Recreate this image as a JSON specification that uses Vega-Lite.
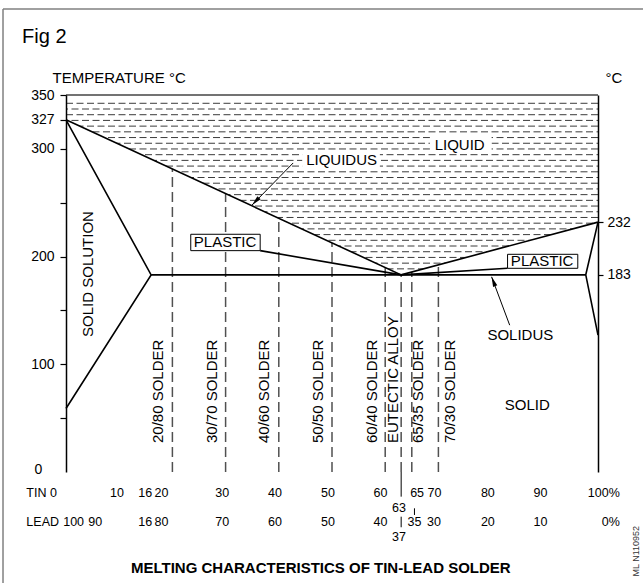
{
  "$schema": "https://vega.github.io/schema/vega-lite/v6.json",
  "width": 532,
  "height": 377,
  "autosize": {"type": "none"},
  "padding": {"left": 66, "top": 95, "right": 45, "bottom": 111},
  "background": "white",
  "config": {
    "view": {"stroke": null},
    "font": "Liberation Sans",
    "text": {"font": "Liberation Sans", "color": "black"},
    "axis": {"labelFont": "Liberation Sans", "titleFont": "Liberation Sans"}
  },
  "resolve": {"axis": {"y": "independent"}},
  "datasets": {
    "hatchA": [{"x": 0, "x2": 100, "y": 342.3}, {"x": 0, "x2": 100, "y": 331.7}, {"x": 0, "x2": 100, "y": 321.1}, {"x": 0, "x2": 100, "y": 310.5}, {"x": 0, "x2": 100, "y": 299.9}, {"x": 0, "x2": 100, "y": 289.3}, {"x": 0, "x2": 100, "y": 278.7}, {"x": 0, "x2": 100, "y": 268.1}, {"x": 0, "x2": 100, "y": 257.5}, {"x": 0, "x2": 100, "y": 246.9}, {"x": 0, "x2": 100, "y": 236.3}, {"x": 0, "x2": 100, "y": 225.7}, {"x": 0, "x2": 100, "y": 215.1}, {"x": 0, "x2": 100, "y": 204.5}, {"x": 0, "x2": 100, "y": 193.9}],
    "hatchB": [{"x": 0, "x2": 100, "y": 337.0}, {"x": 0, "x2": 100, "y": 326.4}, {"x": 0, "x2": 100, "y": 315.8}, {"x": 0, "x2": 100, "y": 305.2}, {"x": 0, "x2": 100, "y": 294.6}, {"x": 0, "x2": 100, "y": 284.0}, {"x": 0, "x2": 100, "y": 273.4}, {"x": 0, "x2": 100, "y": 262.8}, {"x": 0, "x2": 100, "y": 252.2}, {"x": 0, "x2": 100, "y": 241.6}, {"x": 0, "x2": 100, "y": 231.0}, {"x": 0, "x2": 100, "y": 220.4}, {"x": 0, "x2": 100, "y": 209.8}, {"x": 0, "x2": 100, "y": 199.2}, {"x": 0, "x2": 100, "y": 188.6}],
    "liquidus": [{"x": 0, "y": 327, "y0": 0}, {"x": 63, "y": 183, "y0": 0}, {"x": 100, "y": 232, "y0": 0}],
    "bgbox": [{"x": 44.4, "x2": 59.0, "y": 297.1, "y2": 282.3}, {"x": 68.4, "x2": 80.0, "y": 311.0, "y2": 296.2}],
    "top": [{"x": 0, "x2": 100, "y": 350}],
    "solder": [{"x": 20, "y": 0, "top": 281.3}, {"x": 30, "y": 0, "top": 258.4}, {"x": 40, "y": 0, "top": 235.6}, {"x": 50, "y": 0, "top": 212.7}, {"x": 60, "y": 0, "top": 189.9}, {"x": 63, "y": 0, "top": 183}, {"x": 65, "y": 0, "top": 185.6}, {"x": 70, "y": 0, "top": 192.3}],
    "bars": [{"x": 63, "y": -22.9, "y2": 0}, {"x": 65.5, "y": -33.7, "y2": -39.9}, {"x": 63, "y": -41.5, "y2": -51.3}],
    "lines": [
      {"seg": "A", "o": 1, "x": 0, "y": 327}, {"seg": "A", "o": 2, "x": 63, "y": 183}, {"seg": "A", "o": 3, "x": 100, "y": 232},
      {"seg": "B", "o": 1, "x": 0, "y": 327}, {"seg": "B", "o": 2, "x": 16, "y": 183}, {"seg": "B", "o": 3, "x": 0, "y": 59},
      {"seg": "C", "o": 1, "x": 16, "y": 183}, {"seg": "C", "o": 2, "x": 97.7, "y": 183},
      {"seg": "D", "o": 1, "x": 100, "y": 232}, {"seg": "D", "o": 2, "x": 97.7, "y": 183}, {"seg": "D", "o": 3, "x": 100, "y": 127},
      {"seg": "E", "o": 1, "x": 36.5, "y": 205.5}, {"seg": "E", "o": 2, "x": 63, "y": 183},
      {"seg": "F", "o": 1, "x": 63, "y": 183}, {"seg": "F", "o": 2, "x": 83.0, "y": 189.1}
    ],
    "arrows": [
      {"seg": "G", "o": 1, "x": 42.7, "y": 286.9}, {"seg": "G", "o": 2, "x": 34.98, "y": 247.9},
      {"seg": "H", "o": 1, "x": 83.4, "y": 136.3}, {"seg": "H", "o": 2, "x": 80.0, "y": 181.2}
    ],
    "tipL": [{"x": 34.98, "y": 247.9}],
    "tipS": [{"x": 80.0, "y": 181.2}],
    "boxes": [{"x": 23.45, "x2": 36.5, "y": 205.5, "y2": 220.7}, {"x": 83.0, "x2": 96.2, "y": 189.1, "y2": 202.1}],
    "lab15": [
      {"x": 51.8, "y": 289.7, "text": "LIQUIDUS"}, {"x": 74.0, "y": 303.6, "text": "LIQUID"},
      {"x": 29.9, "y": 213.6, "text": "PLASTIC"}, {"x": 89.5, "y": 195.5, "text": "PLASTIC"},
      {"x": 85.4, "y": 127.2, "text": "SOLIDUS"}, {"x": 86.7, "y": 62.2, "text": "SOLID"}
    ],
    "rot": [
      {"x": 17.33, "y": 26.9, "text": "20/80 SOLDER"}, {"x": 27.4, "y": 26.9, "text": "30/70 SOLDER"},
      {"x": 37.2, "y": 26.9, "text": "40/60 SOLDER"}, {"x": 47.4, "y": 26.9, "text": "50/50 SOLDER"},
      {"x": 57.45, "y": 26.9, "text": "60/40 SOLDER"}, {"x": 61.5, "y": 26.9, "text": "EUTECTIC ALLOY"},
      {"x": 66.1, "y": 26.9, "text": "65/35 SOLDER"}, {"x": 72.2, "y": 26.9, "text": "70/30 SOLDER"}
    ],
    "solsol": [{"x": 4.19, "y": 183.8, "text": "SOLID SOLUTION"}],
    "bottomC": [
      {"x": 9.58, "y": -19.5, "text": "10"}, {"x": 14.9, "y": -19.5, "text": "16"}, {"x": 17.95, "y": -19.5, "text": "20"},
      {"x": 29.35, "y": -19.5, "text": "30"}, {"x": 39.3, "y": -19.5, "text": "40"}, {"x": 49.25, "y": -19.5, "text": "50"},
      {"x": 59.1, "y": -19.5, "text": "60"}, {"x": 66.0, "y": -19.5, "text": "65"}, {"x": 69.25, "y": -19.5, "text": "70"},
      {"x": 79.3, "y": -19.5, "text": "80"}, {"x": 89.2, "y": -19.5, "text": "90"},
      {"x": 62.6, "y": -33.7, "text": "63"},
      {"x": 1.43, "y": -46.1, "text": "100"}, {"x": 5.5, "y": -46.1, "text": "90"}, {"x": 14.9, "y": -46.1, "text": "16"},
      {"x": 17.95, "y": -46.1, "text": "80"}, {"x": 29.35, "y": -46.1, "text": "70"}, {"x": 39.3, "y": -46.1, "text": "60"},
      {"x": 49.25, "y": -46.1, "text": "50"}, {"x": 59.1, "y": -46.1, "text": "40"}, {"x": 65.5, "y": -46.1, "text": "35"},
      {"x": 69.15, "y": -46.1, "text": "30"}, {"x": 79.3, "y": -46.1, "text": "20"}, {"x": 89.2, "y": -46.1, "text": "10"},
      {"x": 62.6, "y": -60.1, "text": "37"}
    ],
    "bottomL": [{"x": -7.45, "y": -19.5, "text": "TIN 0"}, {"x": -7.45, "y": -46.1, "text": "LEAD"}],
    "bottomR": [{"x": 104.1, "y": -19.5, "text": "100%"}, {"x": 104.1, "y": -46.1, "text": "0%"}],
    "zero": [{"x": -5.2, "y": 1.9, "text": "0"}],
    "fig": [{"x": -8.26, "y": 398.1, "text": "Fig 2"}],
    "caption": [{"x": 47.9, "y": -89, "text": "MELTING CHARACTERISTICS OF TIN-LEAD SOLDER"}],
    "frame": [{"x": -11.84, "x2": 110, "y": 429.9, "y2": 429.9}, {"x": -11.84, "x2": -11.84, "y": 429.9, "y2": -104}],
    "stamp": [{"x": 107.05, "y": -97, "text": "ML N110952"}]
  },
  "layer": [
    {
      "data": {"name": "hatchA"},
      "mark": {"type": "rule", "stroke": "#3c3c3c", "strokeWidth": 1, "strokeDash": [7, 3.5]},
      "encoding": {
        "x": {"field": "x", "type": "quantitative", "scale": {"domain": [0, 100], "nice": false, "zero": false}, "axis": null},
        "x2": {"field": "x2"},
        "y": {"field": "y", "type": "quantitative", "scale": {"domain": [0, 350], "nice": false, "zero": false}, "axis": null}
      }
    },
    {
      "data": {"name": "hatchB"},
      "mark": {"type": "rule", "stroke": "#3c3c3c", "strokeWidth": 1, "strokeDash": [7, 3.5], "strokeDashOffset": 5},
      "encoding": {
        "x": {"field": "x", "type": "quantitative", "scale": {"domain": [0, 100], "nice": false, "zero": false}, "axis": null},
        "x2": {"field": "x2"},
        "y": {"field": "y", "type": "quantitative", "scale": {"domain": [0, 350], "nice": false, "zero": false}, "axis": null}
      }
    },
    {
      "data": {"name": "liquidus"},
      "mark": {"type": "area", "fill": "white", "opacity": 1},
      "encoding": {
        "x": {"field": "x", "type": "quantitative", "scale": {"domain": [0, 100], "nice": false, "zero": false}, "axis": null},
        "y": {"field": "y", "type": "quantitative", "scale": {"domain": [0, 350], "nice": false, "zero": false}, "axis": null},
        "y2": {"field": "y0"}
      }
    },
    {
      "data": {"name": "bgbox"},
      "mark": {"type": "rect", "fill": "white"},
      "encoding": {
        "x": {"field": "x", "type": "quantitative", "scale": {"domain": [0, 100], "nice": false, "zero": false}, "axis": null},
        "x2": {"field": "x2"},
        "y": {"field": "y", "type": "quantitative", "scale": {"domain": [0, 350], "nice": false, "zero": false}, "axis": null},
        "y2": {"field": "y2"}
      }
    },
    {
      "data": {"name": "top"},
      "mark": {"type": "rule", "stroke": "#444444", "strokeWidth": 1.5},
      "encoding": {
        "x": {"field": "x", "type": "quantitative", "scale": {"domain": [0, 100], "nice": false, "zero": false}, "axis": null},
        "x2": {"field": "x2"},
        "y": {"field": "y", "type": "quantitative", "scale": {"domain": [0, 350], "nice": false, "zero": false},
          "axis": {"orient": "right", "values": [183, 232], "ticks": true, "tickSize": 5, "tickWidth": 1.2, "tickColor": "black",
            "domainColor": "black", "domainWidth": 1.5, "labelFontSize": 14, "labelColor": "black", "labelPadding": 4,
            "grid": false, "zindex": 1, "title": "°C", "titleAngle": 0, "titleAlign": "left", "titleBaseline": "alphabetic",
            "titleX": 7, "titleY": -13, "titleFontSize": 15, "titleFontWeight": "normal", "titleColor": "black"}}
      }
    },
    {
      "data": {"name": "solder"},
      "mark": {"type": "rule", "stroke": "#505050", "strokeWidth": 1.5, "strokeDash": [10, 5]},
      "encoding": {
        "x": {"field": "x", "type": "quantitative", "scale": {"domain": [0, 100], "nice": false, "zero": false}, "axis": null},
        "y": {"field": "y", "type": "quantitative", "scale": {"domain": [0, 350], "nice": false, "zero": false}, "axis": null},
        "y2": {"field": "top"}
      }
    },
    {
      "data": {"name": "bars"},
      "mark": {"type": "rule", "stroke": "black", "strokeWidth": 1},
      "encoding": {
        "x": {"field": "x", "type": "quantitative", "scale": {"domain": [0, 100], "nice": false, "zero": false}, "axis": null},
        "y": {"field": "y", "type": "quantitative", "scale": {"domain": [0, 350], "nice": false, "zero": false}, "axis": null},
        "y2": {"field": "y2"}
      }
    },
    {
      "data": {"name": "lines"},
      "mark": {"type": "line", "stroke": "black", "strokeWidth": 1.6},
      "encoding": {
        "x": {"field": "x", "type": "quantitative", "scale": {"domain": [0, 100], "nice": false, "zero": false},
          "axis": {"orient": "bottom", "values": [10, 16, 20, 30, 40, 50, 60, 70, 80, 90], "labels": false, "ticks": true, "tickSize": 6,
            "tickColor": "black", "tickWidth": 1.2, "domainColor": "black", "domainWidth": 1.5, "title": null, "grid": false, "zindex": 1}},
        "y": {"field": "y", "type": "quantitative", "scale": {"domain": [0, 350], "nice": false, "zero": false},
          "axis": {"orient": "left", "values": [50, 100, 150, 200, 250, 300, 327, 350],
            "labelExpr": "indexof([100,200,300,327,350], datum.value) >= 0 ? datum.label : ''",
            "ticks": true, "tickSize": 6, "tickWidth": 1.2, "tickColor": "black", "domainColor": "black", "domainWidth": 1.5, "labelFontSize": 14,
            "labelColor": "black", "labelPadding": 6, "labelOverlap": false, "grid": false, "zindex": 1,
            "title": "TEMPERATURE °C", "titleAngle": 0, "titleAlign": "left", "titleBaseline": "alphabetic",
            "titleX": -14, "titleY": -13, "titleFontSize": 15, "titleFontWeight": "normal", "titleColor": "black"}},
        "detail": {"field": "seg", "type": "nominal"},
        "order": {"field": "o", "type": "quantitative"}
      }
    },
    {
      "data": {"name": "arrows"},
      "mark": {"type": "line", "stroke": "black", "strokeWidth": 1},
      "encoding": {
        "x": {"field": "x", "type": "quantitative", "scale": {"domain": [0, 100], "nice": false, "zero": false}, "axis": null},
        "y": {"field": "y", "type": "quantitative", "scale": {"domain": [0, 350], "nice": false, "zero": false}, "axis": null},
        "detail": {"field": "seg", "type": "nominal"},
        "order": {"field": "o", "type": "quantitative"}
      }
    },
    {
      "data": {"name": "tipL"},
      "mark": {"type": "point", "shape": "M0,0L-0.45,2L0.45,2Z", "size": 100, "filled": true, "fill": "black", "strokeWidth": 0, "opacity": 1, "angle": 224},
      "encoding": {
        "x": {"field": "x", "type": "quantitative", "scale": {"domain": [0, 100], "nice": false, "zero": false}, "axis": null},
        "y": {"field": "y", "type": "quantitative", "scale": {"domain": [0, 350], "nice": false, "zero": false}, "axis": null}
      }
    },
    {
      "data": {"name": "tipS"},
      "mark": {"type": "point", "shape": "M0,0L-0.45,2L0.45,2Z", "size": 100, "filled": true, "fill": "black", "strokeWidth": 0, "opacity": 1, "angle": 339},
      "encoding": {
        "x": {"field": "x", "type": "quantitative", "scale": {"domain": [0, 100], "nice": false, "zero": false}, "axis": null},
        "y": {"field": "y", "type": "quantitative", "scale": {"domain": [0, 350], "nice": false, "zero": false}, "axis": null}
      }
    },
    {
      "data": {"name": "boxes"},
      "mark": {"type": "rect", "fill": "white", "stroke": "black", "strokeWidth": 1},
      "encoding": {
        "x": {"field": "x", "type": "quantitative", "scale": {"domain": [0, 100], "nice": false, "zero": false}, "axis": null},
        "x2": {"field": "x2"},
        "y": {"field": "y", "type": "quantitative", "scale": {"domain": [0, 350], "nice": false, "zero": false}, "axis": null},
        "y2": {"field": "y2"}
      }
    },
    {
      "data": {"name": "lab15"},
      "mark": {"type": "text", "fontSize": 15, "align": "center", "baseline": "middle"},
      "encoding": {
        "x": {"field": "x", "type": "quantitative", "scale": {"domain": [0, 100], "nice": false, "zero": false}, "axis": null},
        "y": {"field": "y", "type": "quantitative", "scale": {"domain": [0, 350], "nice": false, "zero": false}, "axis": null},
        "text": {"field": "text", "type": "nominal"}
      }
    },
    {
      "data": {"name": "rot"},
      "mark": {"type": "text", "fontSize": 15, "align": "left", "baseline": "middle", "angle": 270},
      "encoding": {
        "x": {"field": "x", "type": "quantitative", "scale": {"domain": [0, 100], "nice": false, "zero": false}, "axis": null},
        "y": {"field": "y", "type": "quantitative", "scale": {"domain": [0, 350], "nice": false, "zero": false}, "axis": null},
        "text": {"field": "text", "type": "nominal"}
      }
    },
    {
      "data": {"name": "solsol"},
      "mark": {"type": "text", "fontSize": 15, "align": "center", "baseline": "middle", "angle": 270},
      "encoding": {
        "x": {"field": "x", "type": "quantitative", "scale": {"domain": [0, 100], "nice": false, "zero": false}, "axis": null},
        "y": {"field": "y", "type": "quantitative", "scale": {"domain": [0, 350], "nice": false, "zero": false}, "axis": null},
        "text": {"field": "text", "type": "nominal"}
      }
    },
    {
      "data": {"name": "bottomC"},
      "mark": {"type": "text", "fontSize": 12.5, "align": "center", "baseline": "middle"},
      "encoding": {
        "x": {"field": "x", "type": "quantitative", "scale": {"domain": [0, 100], "nice": false, "zero": false}, "axis": null},
        "y": {"field": "y", "type": "quantitative", "scale": {"domain": [0, 350], "nice": false, "zero": false}, "axis": null},
        "text": {"field": "text", "type": "nominal"}
      }
    },
    {
      "data": {"name": "bottomL"},
      "mark": {"type": "text", "fontSize": 12.5, "align": "left", "baseline": "middle"},
      "encoding": {
        "x": {"field": "x", "type": "quantitative", "scale": {"domain": [0, 100], "nice": false, "zero": false}, "axis": null},
        "y": {"field": "y", "type": "quantitative", "scale": {"domain": [0, 350], "nice": false, "zero": false}, "axis": null},
        "text": {"field": "text", "type": "nominal"}
      }
    },
    {
      "data": {"name": "bottomR"},
      "mark": {"type": "text", "fontSize": 12.5, "align": "right", "baseline": "middle"},
      "encoding": {
        "x": {"field": "x", "type": "quantitative", "scale": {"domain": [0, 100], "nice": false, "zero": false}, "axis": null},
        "y": {"field": "y", "type": "quantitative", "scale": {"domain": [0, 350], "nice": false, "zero": false}, "axis": null},
        "text": {"field": "text", "type": "nominal"}
      }
    },
    {
      "data": {"name": "zero"},
      "mark": {"type": "text", "fontSize": 14, "align": "center", "baseline": "middle"},
      "encoding": {
        "x": {"field": "x", "type": "quantitative", "scale": {"domain": [0, 100], "nice": false, "zero": false}, "axis": null},
        "y": {"field": "y", "type": "quantitative", "scale": {"domain": [0, 350], "nice": false, "zero": false}, "axis": null},
        "text": {"field": "text", "type": "nominal"}
      }
    },
    {
      "data": {"name": "fig"},
      "mark": {"type": "text", "fontSize": 20, "align": "left", "baseline": "alphabetic"},
      "encoding": {
        "x": {"field": "x", "type": "quantitative", "scale": {"domain": [0, 100], "nice": false, "zero": false}, "axis": null},
        "y": {"field": "y", "type": "quantitative", "scale": {"domain": [0, 350], "nice": false, "zero": false}, "axis": null},
        "text": {"field": "text", "type": "nominal"}
      }
    },
    {
      "data": {"name": "caption"},
      "mark": {"type": "text", "fontSize": 15, "fontWeight": "bold", "align": "center", "baseline": "middle"},
      "encoding": {
        "x": {"field": "x", "type": "quantitative", "scale": {"domain": [0, 100], "nice": false, "zero": false}, "axis": null},
        "y": {"field": "y", "type": "quantitative", "scale": {"domain": [0, 350], "nice": false, "zero": false}, "axis": null},
        "text": {"field": "text", "type": "nominal"}
      }
    },
    {
      "data": {"name": "frame"},
      "mark": {"type": "rule", "stroke": "#808080", "strokeWidth": 1.5},
      "encoding": {
        "x": {"field": "x", "type": "quantitative", "scale": {"domain": [0, 100], "nice": false, "zero": false}, "axis": null},
        "x2": {"field": "x2"},
        "y": {"field": "y", "type": "quantitative", "scale": {"domain": [0, 350], "nice": false, "zero": false}, "axis": null},
        "y2": {"field": "y2"}
      }
    },
    {
      "data": {"name": "stamp"},
      "mark": {"type": "text", "fontSize": 9, "align": "left", "baseline": "middle", "angle": 270, "color": "#333333"},
      "encoding": {
        "x": {"field": "x", "type": "quantitative", "scale": {"domain": [0, 100], "nice": false, "zero": false}, "axis": null},
        "y": {"field": "y", "type": "quantitative", "scale": {"domain": [0, 350], "nice": false, "zero": false}, "axis": null},
        "text": {"field": "text", "type": "nominal"}
      }
    }
  ]
}
